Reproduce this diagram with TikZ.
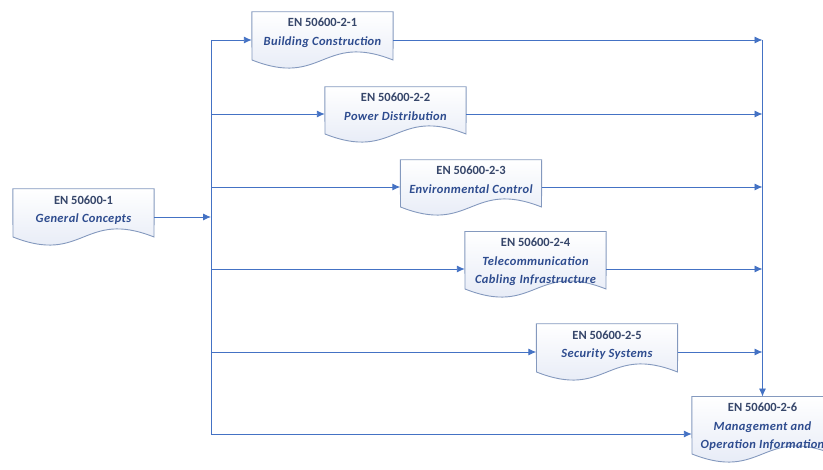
\documentclass[tikz,border=0pt]{standalone}
\usepackage{fontspec}
\setmainfont{Carlito}
\newfontfamily\subfont[LetterSpace=3]{Carlito}
\usepackage{tikz}
\usetikzlibrary{arrows.meta,calc,backgrounds}
\definecolor{linkblue}{HTML}{4472C4}
\definecolor{docline}{HTML}{8499BE}
\definecolor{docfill}{HTML}{E0E6F4}
\definecolor{doctitle}{HTML}{36466A}
\definecolor{docsub}{HTML}{2E4C8F}
\tikzstyle{doc}=[minimum width=141pt,inner xsep=0pt,inner ysep=6.5pt,align=center,font=\fontsize{12.5}{18.5}\selectfont,text=doctitle]
\tikzstyle{docshape}=[draw=docline,line width=0.9pt,top color=white,bottom color=docfill]
\tikzstyle{conn}=[draw=linkblue,line width=0.9pt,-{Latex[length=8pt,width=7pt]}]
\tikzstyle{link}=[draw=linkblue,line width=0.9pt,-]
\newcommand{\doctitle}[1]{\textbf{#1}}
\newcommand{\subtext}[1]{{\subfont\color{docsub}\bfseries\itshape #1}}

\begin{document}
\begin{tikzpicture}[x=1pt,y=-1pt]
        \useasboundingbox (0,0) rectangle (823,470);
        \node[doc] (g) at (83.5,210) {\doctitle{EN 50600-1}\\\subtext{General Concepts}};
        \node[doc] (b1) at (322.5,33) {\doctitle{EN 50600-2-1}\\\subtext{Building Construction}};
        \node[doc] (b2) at (395.5,107) {\doctitle{EN 50600-2-2}\\\subtext{Power Distribution}};
        \node[doc] (b3) at (471,180) {\doctitle{EN 50600-2-3}\\\subtext{Environmental Control}};
        \node[doc] (b4) at (535.5,262) {\doctitle{EN 50600-2-4}\\\subtext{Telecommunication}\\\subtext{Cabling Infrastructure}};
        \node[doc] (b5) at (607,345) {\doctitle{EN 50600-2-5}\\\subtext{Security Systems}};
        \node[doc] (b6) at (762.5,427) {\doctitle{EN 50600-2-6}\\\subtext{Management and}\\\subtext{Operation Information}};
        % document shapes
        \begin{scope}[on background layer]
        \foreach \n in {g,b1,b2,b3,b4,b5,b6}
          \path[docshape] (\n.north west) -- (\n.north east) -- ($(\n.center)+(70.5,27)$)
            .. controls ($(\n.center)+(0,-1)$) and ($(\n.center)+(0,55)$) .. ($(\n.center)+(-70.5,27)$) -- cycle;
        \end{scope}
        % connection points
        \coordinate (split) at (211,0);
        \coordinate (go) at ([yshift=-7pt]g.east);
        \coordinate (i1) at ([yshift=-7pt]b1.west);
        \coordinate (i2) at ([yshift=-7pt]b2.west);
        \coordinate (i3) at ([yshift=-7pt]b3.west);
        \coordinate (i4) at ([yshift=-7pt]b4.west);
        \coordinate (i5) at ([yshift=-7pt]b5.west);
        \coordinate (i6) at ([yshift=-7pt]b6.west);
        \coordinate (o1) at ([yshift=-7pt]b1.east);
        \coordinate (o2) at ([yshift=-7pt]b2.east);
        \coordinate (o3) at ([yshift=-7pt]b3.east);
        \coordinate (o4) at ([yshift=-7pt]b4.east);
        \coordinate (o5) at ([yshift=-7pt]b5.east);
        \draw[conn] (go) -- (go -| split);
        \draw[link] (i1 -| split) -- (i6 -| split);
        \foreach \n in {1,...,6}
          \draw[conn] (i\n -| split) -- (i\n);
        \foreach \n in {1,...,5}
          \draw[conn] (o\n) -- (o\n -| b6.north);
        \draw[conn] (o1 -| b6.north) -- (b6.north);
      \end{tikzpicture}
\end{document}
